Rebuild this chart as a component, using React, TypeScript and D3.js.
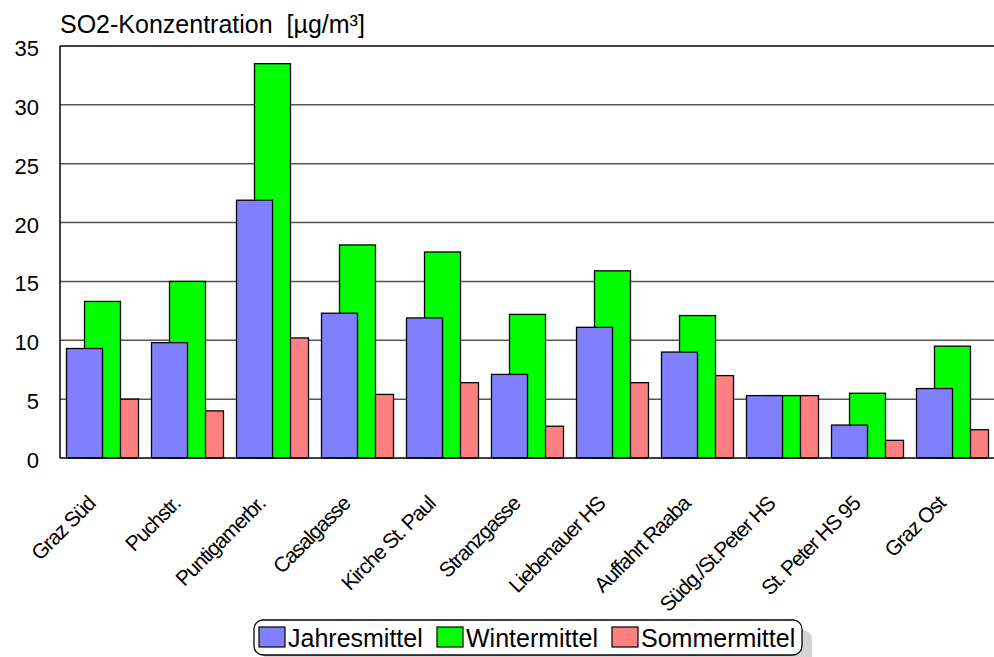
import React from "react";
import * as d3 from "d3";

// Messstellen (categories)
const stations = [
  "Graz Süd",
  "Puchstr.",
  "Puntigamerbr.",
  "Casalgasse",
  "Kirche St. Paul",
  "Stranzgasse",
  "Liebenauer HS",
  "Auffahrt Raaba",
  "Südg./St.Peter HS",
  "St. Peter HS 95",
  "Graz Ost",
];

// SO2 means in µg/m³
const jahresmittel = [9.3, 9.8, 21.9, 12.3, 11.9, 7.1, 11.1, 9.0, 5.3, 2.8, 5.9];
const wintermittel = [13.3, 15.0, 33.5, 18.1, 17.5, 12.2, 15.9, 12.1, 5.3, 5.5, 9.5];
const sommermittel = [5.0, 4.0, 10.2, 5.4, 6.4, 2.7, 6.4, 7.0, 5.3, 1.5, 2.4];

const seriesNames = ["Jahresmittel", "Wintermittel", "Sommermittel"];
const seriesColors = ["#8080FF", "#00FF00", "#FF8080"];
const yTicks = [0, 5, 10, 15, 20, 25, 30, 35];

const W = 994;
const H = 657;
const FONT = "'Liberation Sans', Arial, Helvetica, sans-serif";

export default function App() {
  const left = 60;
  const right = 995;
  const top = 46;
  const bottom = 458;

  const x = d3.scaleBand<string>().domain(stations).range([left, right]).paddingInner(0).paddingOuter(0);
  const y = d3.scaleLinear().domain([0, 35]).range([bottom, top]);

  const band = x.bandwidth();
  const barW = band * 0.4235;
  const step = barW / 2; // bars overlap by half their width
  const startOff = (band - (barW + 2 * step)) / 2;

  const series = [jahresmittel, wintermittel, sommermittel];
  // draw order: later series first so earlier ones sit on top
  const drawOrder = [2, 1, 0];

  // legend layout
  const legX = 254;
  const legY = 620;
  const legW = 548;
  const legH = 35;
  const legendItems = [
    { x: 259, tx: 288 },
    { x: 437, tx: 466 },
    { x: 612, tx: 641 },
  ];

  return (
    <svg
      width={W}
      height={H}
      style={{ position: "absolute", left: 0, top: 0, background: "#fff", display: "block" }}
      fontFamily={FONT}
    >
      <rect x={0} y={0} width={W} height={H} fill="#fff" />

      {/* title */}
      <text x={60} y={33} fontSize={25} fill="#000">
        SO2-Konzentration{"\u00A0\u00A0"}[µg/m³]
      </text>

      {/* gridlines */}
      {yTicks
        .filter((t) => t > 0 && t < 35)
        .map((t) => (
          <line key={t} x1={left} x2={W} y1={y(t)} y2={y(t)} stroke="#555" strokeWidth={1.5} />
        ))}
      <line x1={left} x2={W} y1={y(35)} y2={y(35)} stroke="#000" strokeWidth={1.5} />

      {/* y tick labels */}
      {yTicks.map((t) => (
        <text key={t} x={39} y={y(t) + 10} fontSize={22} textAnchor="end" fill="#000">
          {t}
        </text>
      ))}

      {/* bars */}
      {stations.map((s, i) => {
        const x0 = (x(s) as number) + startOff;
        return (
          <g key={s}>
            {drawOrder.map((k) => (
              <rect
                key={k}
                x={x0 + k * step}
                y={y(series[k][i])}
                width={barW}
                height={bottom - y(series[k][i])}
                fill={seriesColors[k]}
                stroke="#000"
                strokeWidth={1.3}
              />
            ))}
          </g>
        );
      })}

      {/* axes */}
      <line x1={left} x2={left} y1={top} y2={bottom} stroke="#000" strokeWidth={1.5} />
      <line x1={left} x2={W} y1={bottom} y2={bottom} stroke="#000" strokeWidth={1.5} />

      {/* category labels */}
      {stations.map((s) => {
        const cx = (x(s) as number) + band / 2 - 6;
        const cy = 505;
        return (
          <text
            key={s}
            x={cx}
            y={cy}
            fontSize={21}
            letterSpacing={-1.1}
            textAnchor="end"
            transform={`rotate(-45 ${cx} ${cy})`}
            fill="#000"
          >
            {s}
          </text>
        );
      })}

      {/* legend */}
      <rect x={legX + 10} y={legY + 10} width={legW} height={legH} rx={9} fill="#d4d4d4" />
      <rect x={legX} y={legY} width={legW} height={legH} rx={9} fill="#fff" stroke="#000" strokeWidth={1.3} />
      {seriesNames.map((n, k) => (
        <g key={n}>
          <rect
            x={legendItems[k].x}
            y={legY + 7}
            width={26}
            height={20}
            fill={seriesColors[k]}
            stroke="#000"
            strokeWidth={1.2}
          />
          <text x={legendItems[k].tx} y={legY + 27} fontSize={25} fill="#000">
            {n}
          </text>
        </g>
      ))}
    </svg>
  );
}
